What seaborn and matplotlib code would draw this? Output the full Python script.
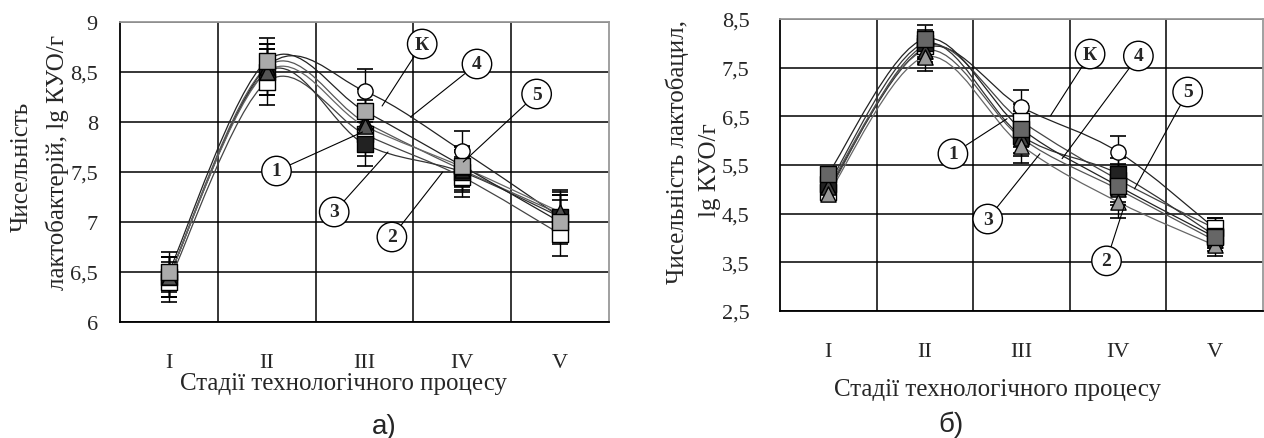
import numpy as np
import pandas as pd
import matplotlib
matplotlib.use("Agg")
import matplotlib.pyplot as plt
from matplotlib.path import Path
from matplotlib.patches import PathPatch
import seaborn as sns

stages = ["I", "II", "III", "IV", "V"]
series = ["К", "1", "2", "3", "4", "5"]

# chart а) - lactobacteria
a_K = [6.45, 8.55, 8.31, 7.71, 7.05]
a_1 = [6.40, 8.40, 7.88, 7.45, 6.88]
a_2 = [6.45, 8.50, 7.78, 7.50, 7.05]
a_3 = [6.45, 8.50, 7.96, 7.55, 7.10]
a_4 = [6.45, 8.55, 8.00, 7.52, 7.08]
a_5 = [6.50, 8.61, 8.11, 7.56, 7.00]
a_err = [0.20, 0.23, 0.22, 0.20, 0.22]

# chart б) - lactobacilli
b_K = [5.00, 7.90, 6.69, 5.77, 4.20]
b_1 = [4.95, 7.95, 6.40, 5.20, 4.20]
b_2 = [5.10, 8.00, 6.10, 5.32, 4.05]
b_3 = [4.90, 7.72, 5.90, 4.74, 3.85]
b_4 = [5.05, 7.85, 6.05, 5.00, 3.95]
b_5 = [5.32, 8.09, 6.24, 5.07, 4.02]
b_err = [0.12, 0.28, 0.36, 0.32, 0.22]

# callouts: label, circle (x, y), pointer end (x, y) in data units
a_callouts = [("К", (2.59, 8.78), (2.18, 8.16)), ("4", (3.15, 8.58), (2.47, 8.05)),
              ("5", (3.76, 8.28), (3.01, 7.60)), ("1", (1.10, 7.51), (1.98, 7.90)),
              ("3", (1.69, 7.10), (2.24, 7.70)), ("2", (2.28, 6.85), (2.80, 7.50))]
b_callouts = [("К", (2.71, 7.78), (2.30, 6.51)), ("4", (3.21, 7.74), (2.42, 5.63)),
              ("5", (3.72, 7.00), (3.17, 5.01)), ("1", (1.29, 5.73), (1.85, 6.45)),
              ("3", (1.65, 4.39), (2.19, 5.73)), ("2", (2.88, 3.53), (3.07, 4.70))]

sns.set_style("white")
plt.rcParams["font.family"] = ["Liberation Serif", "DejaVu Serif"]

markers = {"К": "o", "1": "s", "2": "s", "3": "^", "4": "^", "5": "s"}
a_face = {"К": "white", "1": "white", "2": "#222222", "3": "#555555", "4": "#222222", "5": "#aaaaaa"}
b_face = {"К": "white", "1": "white", "2": "#222222", "3": "#999999", "4": "#444444", "5": "#666666"}
line_col = {"К": "#222222", "1": "#444444", "2": "#333333", "3": "#666666", "4": "#555555", "5": "#222222"}
draw_order = ["К", "1", "2", "4", "3", "5"]


def smooth_path(xs, ys):
    # Excel-style smoothed line through the data points (cubic Bezier)
    pts = np.column_stack([xs, ys])
    n = len(pts)
    verts = [pts[0]]
    codes = [Path.MOVETO]
    for i in range(n - 1):
        p0 = pts[max(i - 1, 0)]
        p1 = pts[i]
        p2 = pts[i + 1]
        p3 = pts[min(i + 2, n - 1)]
        verts += [p1 + (p2 - p0) / 6, p2 - (p3 - p1) / 6, p2]
        codes += [Path.CURVE4] * 3
    return Path(verts, codes)


def draw_chart(ax, data, err, face, ylim, yticks, ylabels, callouts):
    x = np.arange(len(stages))
    rows = []
    for s in series:
        for i, v in enumerate(data[s]):
            rows.append({"x": i, "y": v, "s": s})
    df = pd.DataFrame(rows)

    for s in draw_order:
        ax.add_patch(PathPatch(smooth_path(x, data[s]), fill=False,
                               edgecolor=line_col[s], lw=0.9, zorder=3))
    for s in draw_order:
        ax.errorbar(x, data[s], yerr=err, fmt="none", ecolor="black",
                    elinewidth=1.0, capsize=6, capthick=1.2, zorder=4)
    for s in draw_order:
        sub = df[df.s == s]
        sns.scatterplot(data=sub, x="x", y="y", ax=ax, marker=markers[s],
                        color=face[s], edgecolor="black", linewidth=1.0,
                        s=140 if markers[s] == "s" else 120, zorder=5, legend=False)

    for lab, xy_text, xy in callouts:
        ax.annotate(lab, xy=xy, xytext=xy_text, ha="center", va="center",
                    fontsize=14, fontweight="bold", zorder=6,
                    bbox=dict(boxstyle="circle,pad=0.32", fc="white", ec="black", lw=1.0),
                    arrowprops=dict(arrowstyle="-", color="black", lw=0.8,
                                    shrinkA=0, shrinkB=0))

    ax.set_xlim(-0.5, len(stages) - 0.5)
    ax.set_ylim(*ylim)
    ax.set_yticks(yticks)
    ax.set_yticklabels(ylabels, fontsize=16)
    ax.set_xticks(x)
    ax.set_xticklabels(stages, fontsize=16)
    ax.set_xticks(np.arange(-0.5, len(stages)), minor=True)
    ax.tick_params(axis="x", which="major", length=0, pad=22)
    ax.tick_params(axis="x", which="minor", length=7, width=1.2, color="black")
    ax.tick_params(axis="y", length=5, width=1.2, color="black")
    ax.grid(False)
    for yv in yticks:
        ax.axhline(yv, color="black", lw=1.1, zorder=1)
    for xv in np.arange(0.5, len(stages) - 0.5):
        ax.axvline(xv, color="black", lw=1.1, zorder=1)
    for sp in ["left", "bottom"]:
        ax.spines[sp].set_color("black")
        ax.spines[sp].set_linewidth(1.3)
    for sp in ["top", "right"]:
        ax.spines[sp].set_color("#999999")
        ax.spines[sp].set_linewidth(1.3)
    ax.set_xlabel("")
    ax.set_ylabel("")


fig = plt.figure(figsize=(12.64, 4.39), dpi=100)
W, H = 1264, 439
ax_a = fig.add_axes([120 / W, 1 - 323 / H, 489 / W, 300 / H])
ax_b = fig.add_axes([780 / W, 1 - 312 / H, 483 / W, 292 / H])

data_a = dict(zip(series, [a_K, a_1, a_2, a_3, a_4, a_5]))
data_b = dict(zip(series, [b_K, b_1, b_2, b_3, b_4, b_5]))

draw_chart(ax_a, data_a, a_err, a_face, (6, 9), np.arange(6, 9.01, 0.5),
           ["6", "6,5", "7", "7,5", "8", "8,5", "9"], a_callouts)
draw_chart(ax_b, data_b, b_err, b_face, (2.5, 8.5), np.arange(2.5, 8.51, 1.0),
           ["2,5", "3,5", "4,5", "5,5", "6,5", "7,5", "8,5"], b_callouts)
ax_a.tick_params(axis="y", pad=11)
ax_b.tick_params(axis="y", pad=17)
ax_a.tick_params(axis="x", which="major", pad=22)
ax_b.tick_params(axis="x", which="major", pad=22)

# axis titles
fig.text(22 / W, 1 - 167 / H, "Чисельність", rotation=90, ha="center", va="center", fontsize=18)
fig.text(57 / W, 1 - 162 / H, "лактобактерій, lg КУО/г", rotation=90, ha="center", va="center", fontsize=18)
fig.text(343 / W, 1 - 384 / H, "Стадії технологічного процесу", ha="center", va="center", fontsize=18)

fig.text(677 / W, 1 - 152 / H, "Чисельність лактобацил,", rotation=90, ha="center", va="center", fontsize=18)
fig.text(710 / W, 1 - 170 / H, "lg КУО/г", rotation=90, ha="center", va="center", fontsize=18)
fig.text(997 / W, 1 - 390 / H, "Стадії технологічного процесу", ha="center", va="center", fontsize=18)

fig.text(384 / W, 1 - 427 / H, "а)", ha="center", va="center", fontsize=20, family="Liberation Sans")
fig.text(951 / W, 1 - 425 / H, "б)", ha="center", va="center", fontsize=20, family="Liberation Sans")

fig.savefig("out.png", dpi=100, facecolor="white")
